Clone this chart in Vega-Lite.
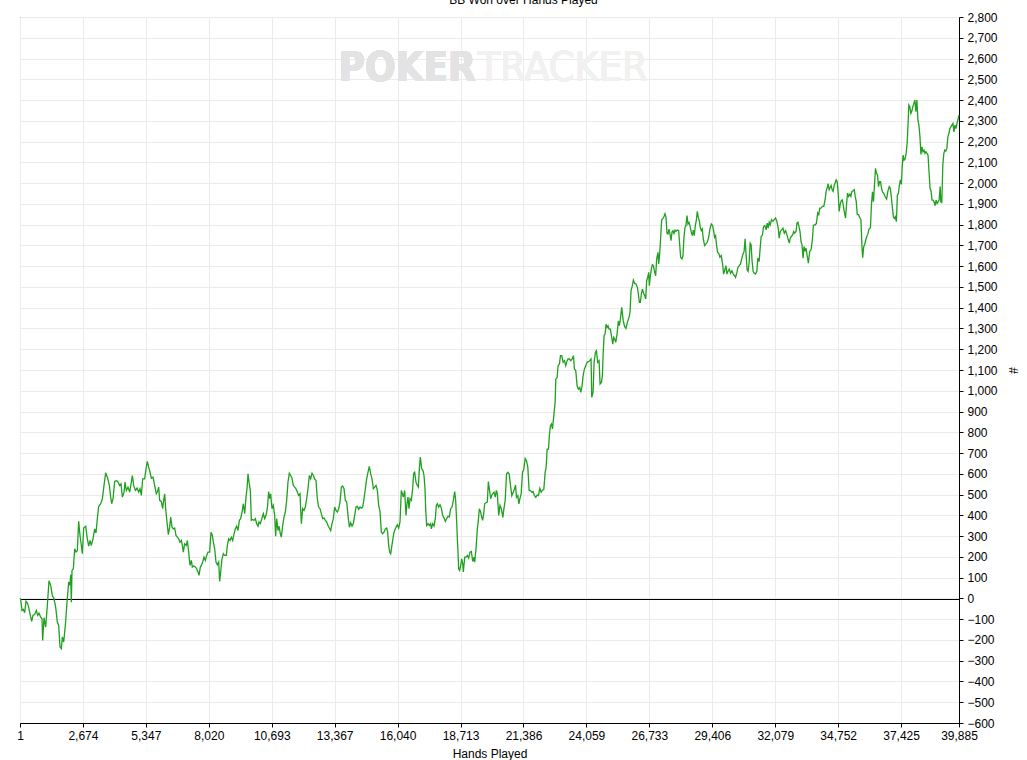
{
  "$schema": "https://vega.github.io/schema/vega-lite/v6.json",
  "autosize": {"type": "none"},
  "padding": {"left": 20, "top": 17, "right": 68, "bottom": 37},
  "width": 939,
  "height": 706,
  "background": "white",
  "title": {
    "text": "BB Won over Hands Played",
    "font": "Liberation Sans",
    "fontSize": 12,
    "fontWeight": "normal",
    "color": "black",
    "anchor": "middle",
    "frame": "group",
    "baseline": "alphabetic",
    "offset": -5,
    "dx": 34
  },
  "data": {
    "values": [
      {"hands":1,"bb":0},{"hands":29,"bb":-5},{"hands":86,"bb":-58},{"hands":143,"bb":-53},{"hands":199,"bb":-69},{"hands":256,"bb":-14},{"hands":313,"bb":-21},{"hands":369,"bb":-42},{"hands":426,"bb":-74},{"hands":497,"bb":-111},{"hands":553,"bb":-82},{"hands":624,"bb":-77},{"hands":695,"bb":-58},{"hands":751,"bb":-82},{"hands":808,"bb":-71},{"hands":879,"bb":-90},{"hands":936,"bb":-98},{"hands":964,"bb":-202},{"hands":1021,"bb":-93},{"hands":1091,"bb":-138},{"hands":1162,"bb":-34},{"hands":1233,"bb":85},{"hands":1304,"bb":63},{"hands":1375,"bb":14},{"hands":1445,"bb":-2},{"hands":1516,"bb":-42},{"hands":1587,"bb":-114},{"hands":1644,"bb":-130},{"hands":1700,"bb":-234},{"hands":1757,"bb":-242},{"hands":1799,"bb":-186},{"hands":1856,"bb":-210},{"hands":1927,"bb":-130},{"hands":1998,"bb":-18},{"hands":2068,"bb":79},{"hands":2125,"bb":63},{"hands":2153,"bb":114},{"hands":2182,"bb":-18},{"hands":2210,"bb":135},{"hands":2267,"bb":143},{"hands":2323,"bb":239},{"hands":2380,"bb":223},{"hands":2437,"bb":231},{"hands":2493,"bb":371},{"hands":2550,"bb":303},{"hands":2607,"bb":255},{"hands":2649,"bb":215},{"hands":2706,"bb":339},{"hands":2791,"bb":347},{"hands":2861,"bb":287},{"hands":2918,"bb":252},{"hands":2975,"bb":279},{"hands":3031,"bb":255},{"hands":3102,"bb":287},{"hands":3173,"bb":335},{"hands":3229,"bb":315},{"hands":3286,"bb":384},{"hands":3343,"bb":443},{"hands":3428,"bb":456},{"hands":3499,"bb":480},{"hands":3569,"bb":544},{"hands":3640,"bb":605},{"hands":3711,"bb":584},{"hands":3796,"bb":544},{"hands":3853,"bb":488},{"hands":3895,"bb":456},{"hands":3952,"bb":480},{"hands":4022,"bb":563},{"hands":4107,"bb":568},{"hands":4164,"bb":560},{"hands":4235,"bb":544},{"hands":4291,"bb":552},{"hands":4348,"bb":488},{"hands":4419,"bb":509},{"hands":4461,"bb":560},{"hands":4518,"bb":520},{"hands":4589,"bb":536},{"hands":4660,"bb":512},{"hands":4730,"bb":560},{"hands":4773,"bb":592},{"hands":4830,"bb":544},{"hands":4900,"bb":520},{"hands":4971,"bb":531},{"hands":5042,"bb":512},{"hands":5099,"bb":528},{"hands":5155,"bb":496},{"hands":5212,"bb":576},
      {"hands":5296,"bb":576},{"hands":5353,"bb":624},{"hands":5409,"bb":660},{"hands":5466,"bb":632},{"hands":5523,"bb":608},{"hands":5579,"bb":579},{"hands":5650,"bb":584},{"hands":5693,"bb":560},{"hands":5749,"bb":528},{"hands":5792,"bb":504},{"hands":5834,"bb":512},{"hands":5891,"bb":536},{"hands":5933,"bb":472},{"hands":6004,"bb":467},{"hands":6061,"bb":432},{"hands":6103,"bb":472},{"hands":6146,"bb":504},{"hands":6188,"bb":432},{"hands":6245,"bb":368},{"hands":6302,"bb":307},{"hands":6358,"bb":343},{"hands":6401,"bb":392},{"hands":6457,"bb":343},{"hands":6514,"bb":335},{"hands":6571,"bb":339},{"hands":6627,"bb":303},{"hands":6684,"bb":295},{"hands":6740,"bb":287},{"hands":6797,"bb":271},{"hands":6854,"bb":279},{"hands":6896,"bb":255},{"hands":6939,"bb":223},{"hands":6995,"bb":263},{"hands":7066,"bb":255},{"hands":7109,"bb":279},{"hands":7165,"bb":223},{"hands":7222,"bb":159},{"hands":7279,"bb":183},{"hands":7321,"bb":151},{"hands":7378,"bb":156},{"hands":7449,"bb":151},{"hands":7505,"bb":143},{"hands":7562,"bb":127},{"hands":7604,"bb":111},{"hands":7661,"bb":151},{"hands":7703,"bb":159},{"hands":7760,"bb":175},{"hands":7817,"bb":199},{"hands":7873,"bb":183},{"hands":7930,"bb":207},{"hands":7987,"bb":223},{"hands":8057,"bb":223},{"hands":8114,"bb":319},{"hands":8171,"bb":303},{"hands":8213,"bb":271},{"hands":8270,"bb":239},{"hands":8326,"bb":175},{"hands":8383,"bb":162},{"hands":8440,"bb":175},{"hands":8482,"bb":82},{"hands":8525,"bb":127},{"hands":8581,"bb":191},{"hands":8638,"bb":215},{"hands":8695,"bb":207},{"hands":8765,"bb":207},{"hands":8808,"bb":255},{"hands":8865,"bb":287},{"hands":8921,"bb":279},{"hands":8978,"bb":295},{"hands":9035,"bb":279},{"hands":9091,"bb":311},{"hands":9148,"bb":335},{"hands":9204,"bb":348},{"hands":9261,"bb":327},{"hands":9318,"bb":376},{"hands":9374,"bb":384},{"hands":9431,"bb":416},{"hands":9488,"bb":456},{"hands":9544,"bb":408},{"hands":9601,"bb":488},{"hands":9643,"bb":528},{"hands":9686,"bb":600},{"hands":9728,"bb":560},{"hands":9785,"bb":520},{"hands":9827,"bb":376},{"hands":9884,"bb":380},{"hands":9941,"bb":376},{"hands":9997,"bb":384},{"hands":10054,"bb":360},{"hands":10111,"bb":348},{"hands":10153,"bb":368},{"hands":10210,"bb":360},
      {"hands":10280,"bb":387},{"hands":10337,"bb":408},{"hands":10393,"bb":384},{"hands":10450,"bb":400},{"hands":10506,"bb":432},{"hands":10563,"bb":515},{"hands":10606,"bb":480},{"hands":10648,"bb":504},{"hands":10705,"bb":432},{"hands":10761,"bb":448},{"hands":10818,"bb":400},{"hands":10860,"bb":300},{"hands":10903,"bb":384},{"hands":10960,"bb":327},{"hands":11002,"bb":348},{"hands":11059,"bb":311},{"hands":11101,"bb":295},{"hands":11158,"bb":351},{"hands":11214,"bb":392},{"hands":11271,"bb":416},{"hands":11328,"bb":472},{"hands":11384,"bb":560},{"hands":11441,"bb":603},{"hands":11498,"bb":592},{"hands":11554,"bb":579},{"hands":11611,"bb":544},{"hands":11668,"bb":536},{"hands":11724,"bb":528},{"hands":11781,"bb":512},{"hands":11838,"bb":496},{"hands":11894,"bb":504},{"hands":11951,"bb":360},{"hands":12007,"bb":432},{"hands":12064,"bb":424},{"hands":12121,"bb":440},{"hands":12177,"bb":480},{"hands":12234,"bb":528},{"hands":12291,"bb":592},{"hands":12347,"bb":576},{"hands":12404,"bb":603},{"hands":12461,"bb":592},{"hands":12517,"bb":576},{"hands":12574,"bb":568},{"hands":12630,"bb":480},{"hands":12687,"bb":440},{"hands":12744,"bb":432},{"hands":12800,"bb":408},{"hands":12857,"bb":384},{"hands":12914,"bb":387},{"hands":12970,"bb":376},{"hands":13027,"bb":368},{"hands":13084,"bb":351},{"hands":13140,"bb":339},{"hands":13197,"bb":327},{"hands":13254,"bb":360},{"hands":13310,"bb":384},{"hands":13367,"bb":440},{"hands":13423,"bb":424},{"hands":13480,"bb":416},{"hands":13537,"bb":432},{"hands":13593,"bb":464},{"hands":13650,"bb":536},{"hands":13707,"bb":541},{"hands":13763,"bb":528},{"hands":13820,"bb":472},{"hands":13877,"bb":464},{"hands":13933,"bb":400},{"hands":13990,"bb":343},{"hands":14046,"bb":364},{"hands":14103,"bb":348},{"hands":14160,"bb":360},{"hands":14216,"bb":400},{"hands":14273,"bb":440},{"hands":14330,"bb":443},{"hands":14386,"bb":429},{"hands":14443,"bb":440},{"hands":14500,"bb":435},{"hands":14556,"bb":440},{"hands":14613,"bb":480},{"hands":14670,"bb":528},{"hands":14726,"bb":576},{"hands":14783,"bb":608},{"hands":14839,"bb":636},{"hands":14896,"bb":600},{"hands":14953,"bb":576},{"hands":15009,"bb":528},{"hands":15066,"bb":536},{"hands":15123,"bb":544},{"hands":15179,"bb":520},{"hands":15236,"bb":448},{"hands":15292,"bb":419},
      {"hands":15349,"bb":319},{"hands":15405,"bb":311},{"hands":15462,"bb":319},{"hands":15519,"bb":335},{"hands":15575,"bb":339},{"hands":15618,"bb":319},{"hands":15660,"bb":255},{"hands":15703,"bb":223},{"hands":15745,"bb":215},{"hands":15788,"bb":247},{"hands":15830,"bb":279},{"hands":15873,"bb":311},{"hands":15915,"bb":327},{"hands":15972,"bb":343},{"hands":16028,"bb":355},{"hands":16085,"bb":339},{"hands":16142,"bb":368},{"hands":16198,"bb":520},{"hands":16241,"bb":504},{"hands":16283,"bb":488},{"hands":16340,"bb":520},{"hands":16396,"bb":400},{"hands":16439,"bb":456},{"hands":16481,"bb":488},{"hands":16524,"bb":432},{"hands":16566,"bb":480},{"hands":16623,"bb":472},{"hands":16680,"bb":528},{"hands":16722,"bb":603},{"hands":16765,"bb":608},{"hands":16821,"bb":560},{"hands":16878,"bb":544},{"hands":16920,"bb":536},{"hands":16963,"bb":624},{"hands":17005,"bb":681},{"hands":17062,"bb":624},{"hands":17119,"bb":616},{"hands":17161,"bb":592},{"hands":17204,"bb":528},{"hands":17232,"bb":432},{"hands":17274,"bb":351},{"hands":17331,"bb":360},{"hands":17388,"bb":351},{"hands":17444,"bb":360},{"hands":17473,"bb":335},{"hands":17529,"bb":360},{"hands":17586,"bb":348},{"hands":17643,"bb":384},{"hands":17685,"bb":448},{"hands":17727,"bb":456},{"hands":17784,"bb":440},{"hands":17841,"bb":451},{"hands":17897,"bb":435},{"hands":17954,"bb":400},{"hands":18011,"bb":387},{"hands":18067,"bb":371},{"hands":18124,"bb":384},{"hands":18181,"bb":396},{"hands":18237,"bb":392},{"hands":18294,"bb":432},{"hands":18351,"bb":440},{"hands":18407,"bb":472},{"hands":18464,"bb":515},{"hands":18506,"bb":472},{"hands":18549,"bb":368},{"hands":18577,"bb":287},{"hands":18605,"bb":223},{"hands":18634,"bb":143},{"hands":18676,"bb":135},{"hands":18719,"bb":159},{"hands":18761,"bb":191},{"hands":18804,"bb":167},{"hands":18832,"bb":127},{"hands":18889,"bb":199},{"hands":18945,"bb":199},{"hands":19002,"bb":207},{"hands":19059,"bb":194},{"hands":19115,"bb":223},{"hands":19172,"bb":226},{"hands":19229,"bb":178},{"hands":19285,"bb":199},{"hands":19314,"bb":175},{"hands":19370,"bb":239},{"hands":19427,"bb":335},{"hands":19469,"bb":376},{"hands":19512,"bb":432},{"hands":19568,"bb":416},{"hands":19611,"bb":392},{"hands":19653,"bb":376},{"hands":19696,"bb":408},{"hands":19738,"bb":456},{"hands":19795,"bb":461},{"hands":19851,"bb":464},{"hands":19894,"bb":563},{"hands":19936,"bb":528},{"hands":19993,"bb":480},{"hands":20035,"bb":496},{"hands":20078,"bb":504},{"hands":20135,"bb":512},{"hands":20191,"bb":488},{"hands":20234,"bb":520},{"hands":20276,"bb":504},{"hands":20333,"bb":400},{"hands":20389,"bb":448},{"hands":20446,"bb":432},
      {"hands":20510,"bb":390},{"hands":20553,"bb":430},{"hands":20609,"bb":471},{"hands":20666,"bb":599},{"hands":20722,"bb":607},{"hands":20779,"bb":599},{"hands":20836,"bb":543},{"hands":20892,"bb":495},{"hands":20949,"bb":511},{"hands":21005,"bb":527},{"hands":21048,"bb":546},{"hands":21090,"bb":487},{"hands":21147,"bb":495},{"hands":21189,"bb":455},{"hands":21232,"bb":479},{"hands":21288,"bb":503},{"hands":21345,"bb":607},{"hands":21401,"bb":623},{"hands":21458,"bb":674},{"hands":21514,"bb":663},{"hands":21571,"bb":631},{"hands":21627,"bb":519},{"hands":21684,"bb":519},{"hands":21741,"bb":511},{"hands":21797,"bb":514},{"hands":21854,"bb":495},{"hands":21910,"bb":487},{"hands":21967,"bb":498},{"hands":22023,"bb":495},{"hands":22080,"bb":530},{"hands":22137,"bb":511},{"hands":22193,"bb":522},{"hands":22250,"bb":524},{"hands":22306,"bb":607},{"hands":22349,"bb":631},{"hands":22391,"bb":719},{"hands":22448,"bb":719},{"hands":22490,"bb":792},{"hands":22532,"bb":832},{"hands":22575,"bb":840},{"hands":22617,"bb":816},{"hands":22674,"bb":880},{"hands":22730,"bb":944},{"hands":22759,"bb":1056},{"hands":22815,"bb":1064},{"hands":22858,"bb":1121},{"hands":22914,"bb":1129},{"hands":22957,"bb":1169},{"hands":23013,"bb":1169},{"hands":23070,"bb":1137},{"hands":23126,"bb":1145},{"hands":23183,"bb":1121},{"hands":23239,"bb":1145},{"hands":23282,"bb":1153},{"hands":23338,"bb":1153},{"hands":23395,"bb":1145},{"hands":23452,"bb":1153},{"hands":23508,"bb":1169},{"hands":23550,"bb":1105},{"hands":23607,"bb":1097},{"hands":23664,"bb":1024},{"hands":23720,"bb":1008},{"hands":23777,"bb":1016},{"hands":23819,"bb":992},{"hands":23876,"bb":1024},{"hands":23918,"bb":1072},{"hands":23975,"bb":1105},{"hands":24031,"bb":1121},{"hands":24088,"bb":1137},{"hands":24144,"bb":1140},{"hands":24201,"bb":1145},{"hands":24257,"bb":1153},{"hands":24286,"bb":968},{"hands":24342,"bb":992},{"hands":24385,"bb":1137},{"hands":24441,"bb":1185},{"hands":24484,"bb":1193},{"hands":24540,"bb":1137},{"hands":24597,"bb":1145},{"hands":24639,"bb":1032},{"hands":24696,"bb":1040},{"hands":24738,"bb":1072},{"hands":24767,"bb":1169},{"hands":24809,"bb":1265},{"hands":24851,"bb":1273},{"hands":24894,"bb":1321},{"hands":24936,"bb":1305},{"hands":24979,"bb":1313},{"hands":25021,"bb":1297},{"hands":25078,"bb":1297},{"hands":25134,"bb":1257},{"hands":25177,"bb":1225},{"hands":25219,"bb":1257},{"hands":25262,"bb":1249},{"hands":25304,"bb":1233},{"hands":25360,"bb":1273},{"hands":25417,"bb":1337},{"hands":25459,"bb":1313},{"hands":25502,"bb":1345},{"hands":25558,"bb":1402},
      {"hands":25620,"bb":1340},{"hands":25680,"bb":1310},{"hands":25740,"bb":1300},{"hands":25800,"bb":1330},{"hands":25860,"bb":1350},
      {"hands":25913,"bb":1378},{"hands":25955,"bb":1482},{"hands":26012,"bb":1506},{"hands":26054,"bb":1533},{"hands":26111,"bb":1517},{"hands":26167,"bb":1514},{"hands":26224,"bb":1498},{"hands":26266,"bb":1466},{"hands":26309,"bb":1426},{"hands":26351,"bb":1426},{"hands":26393,"bb":1466},{"hands":26436,"bb":1490},{"hands":26478,"bb":1474},{"hands":26535,"bb":1458},{"hands":26577,"bb":1442},{"hands":26620,"bb":1530},{"hands":26662,"bb":1546},{"hands":26704,"bb":1570},{"hands":26733,"bb":1506},{"hands":26775,"bb":1554},{"hands":26818,"bb":1586},{"hands":26860,"bb":1607},{"hands":26902,"bb":1603},{"hands":26945,"bb":1578},{"hands":27001,"bb":1554},{"hands":27044,"bb":1635},{"hands":27100,"bb":1667},{"hands":27129,"bb":1611},{"hands":27171,"bb":1659},{"hands":27213,"bb":1739},{"hands":27256,"bb":1823},{"hands":27298,"bb":1828},{"hands":27355,"bb":1839},{"hands":27397,"bb":1852},{"hands":27440,"bb":1836},{"hands":27482,"bb":1758},{"hands":27525,"bb":1755},{"hands":27567,"bb":1779},{"hands":27609,"bb":1755},{"hands":27652,"bb":1723},{"hands":27694,"bb":1763},{"hands":27737,"bb":1771},{"hands":27779,"bb":1758},{"hands":27822,"bb":1774},{"hands":27864,"bb":1768},{"hands":27920,"bb":1774},{"hands":27977,"bb":1771},{"hands":28019,"bb":1707},{"hands":28062,"bb":1643},{"hands":28118,"bb":1635},{"hands":28161,"bb":1651},{"hands":28203,"bb":1739},{"hands":28246,"bb":1787},{"hands":28288,"bb":1795},{"hands":28331,"bb":1844},{"hands":28373,"bb":1803},{"hands":28415,"bb":1811},{"hands":28458,"bb":1795},{"hands":28514,"bb":1763},{"hands":28557,"bb":1747},{"hands":28599,"bb":1774},{"hands":28642,"bb":1747},{"hands":28684,"bb":1795},{"hands":28726,"bb":1819},{"hands":28769,"bb":1864},{"hands":28811,"bb":1836},{"hands":28854,"bb":1819},{"hands":28896,"bb":1787},{"hands":28939,"bb":1771},{"hands":28981,"bb":1779},{"hands":29023,"bb":1731},{"hands":29080,"bb":1699},{"hands":29137,"bb":1707},{"hands":29193,"bb":1715},{"hands":29250,"bb":1739},{"hands":29306,"bb":1779},{"hands":29363,"bb":1803},{"hands":29419,"bb":1795},{"hands":29462,"bb":1771},{"hands":29504,"bb":1739},{"hands":29547,"bb":1747},{"hands":29589,"bb":1699},{"hands":29631,"bb":1667},{"hands":29688,"bb":1659},{"hands":29730,"bb":1643},{"hands":29787,"bb":1651},{"hands":29844,"bb":1611},{"hands":29886,"bb":1562},{"hands":29928,"bb":1578},{"hands":29985,"bb":1603},{"hands":30027,"bb":1562},{"hands":30084,"bb":1578},{"hands":30126,"bb":1586},{"hands":30183,"bb":1566},{"hands":30240,"bb":1578},{"hands":30296,"bb":1562},{"hands":30353,"bb":1554},{"hands":30395,"bb":1546},{"hands":30452,"bb":1570},{"hands":30494,"bb":1594},{"hands":30551,"bb":1603},{"hands":30608,"bb":1611},{"hands":30636,"bb":1627},
      {"hands":30700,"bb":1655},{"hands":30757,"bb":1671},{"hands":30800,"bb":1732},{"hands":30842,"bb":1655},{"hands":30885,"bb":1583},{"hands":30927,"bb":1575},{"hands":30970,"bb":1615},{"hands":31013,"bb":1711},{"hands":31055,"bb":1703},{"hands":31098,"bb":1623},{"hands":31141,"bb":1575},{"hands":31183,"bb":1567},{"hands":31240,"bb":1562},{"hands":31297,"bb":1575},{"hands":31340,"bb":1639},{"hands":31397,"bb":1623},{"hands":31439,"bb":1687},{"hands":31482,"bb":1743},{"hands":31539,"bb":1751},{"hands":31582,"bb":1791},{"hands":31638,"bb":1796},{"hands":31695,"bb":1775},{"hands":31738,"bb":1807},{"hands":31781,"bb":1783},{"hands":31823,"bb":1812},{"hands":31866,"bb":1799},{"hands":31923,"bb":1824},{"hands":31980,"bb":1816},{"hands":32037,"bb":1824},{"hands":32094,"bb":1832},{"hands":32150,"bb":1816},{"hands":32207,"bb":1783},{"hands":32250,"bb":1735},{"hands":32293,"bb":1767},{"hands":32349,"bb":1775},{"hands":32406,"bb":1783},{"hands":32463,"bb":1759},{"hands":32520,"bb":1771},{"hands":32577,"bb":1751},{"hands":32634,"bb":1727},{"hands":32677,"bb":1711},{"hands":32719,"bb":1735},{"hands":32762,"bb":1743},{"hands":32819,"bb":1751},{"hands":32861,"bb":1767},{"hands":32904,"bb":1759},{"hands":32961,"bb":1767},{"hands":33004,"bb":1808},{"hands":33046,"bb":1812},{"hands":33089,"bb":1791},{"hands":33132,"bb":1767},{"hands":33174,"bb":1719},{"hands":33217,"bb":1703},{"hands":33260,"bb":1639},{"hands":33302,"bb":1695},{"hands":33345,"bb":1671},{"hands":33388,"bb":1687},{"hands":33430,"bb":1655},{"hands":33487,"bb":1615},{"hands":33544,"bb":1671},{"hands":33601,"bb":1679},{"hands":33658,"bb":1727},{"hands":33700,"bb":1796},{"hands":33743,"bb":1799},{"hands":33786,"bb":1799},{"hands":33828,"bb":1807},{"hands":33885,"bb":1856},{"hands":33928,"bb":1848},{"hands":33971,"bb":1880},{"hands":34027,"bb":1880},{"hands":34084,"bb":1888},{"hands":34141,"bb":1888},{"hands":34198,"bb":1920},{"hands":34241,"bb":1960},{"hands":34283,"bb":1976},{"hands":34326,"bb":1997},{"hands":34369,"bb":1968},{"hands":34411,"bb":1979},{"hands":34454,"bb":1989},{"hands":34497,"bb":1968},{"hands":34539,"bb":1960},{"hands":34582,"bb":1989},{"hands":34625,"bb":2000},{"hands":34667,"bb":2016},{"hands":34710,"bb":2008},{"hands":34753,"bb":1952},{"hands":34795,"bb":1864},{"hands":34838,"bb":1896},{"hands":34881,"bb":1915},{"hands":34923,"bb":1920},{"hands":34966,"bb":1896},{"hands":35009,"bb":1864},{"hands":35066,"bb":1832},{"hands":35108,"bb":1896},{"hands":35151,"bb":1952},{"hands":35193,"bb":1936},{"hands":35250,"bb":1947},{"hands":35293,"bb":1936},{"hands":35336,"bb":1960},{"hands":35393,"bb":1963},{"hands":35435,"bb":1968},{"hands":35478,"bb":1936},{"hands":35520,"bb":1912},{"hands":35563,"bb":1848},{"hands":35620,"bb":1848},{"hands":35677,"bb":1832},{"hands":35719,"bb":1824},
      {"hands":35766,"bb":1686},{"hands":35795,"bb":1641},{"hands":35837,"bb":1694},{"hands":35880,"bb":1705},{"hands":35923,"bb":1726},{"hands":35966,"bb":1742},{"hands":36009,"bb":1753},{"hands":36066,"bb":1779},{"hands":36123,"bb":1785},{"hands":36166,"bb":1894},{"hands":36209,"bb":1958},{"hands":36252,"bb":1910},{"hands":36295,"bb":1991},{"hands":36338,"bb":2071},{"hands":36381,"bb":2047},{"hands":36424,"bb":2039},{"hands":36467,"bb":1983},{"hands":36510,"bb":2007},{"hands":36552,"bb":2007},{"hands":36595,"bb":1975},{"hands":36638,"bb":1958},{"hands":36695,"bb":1950},{"hands":36753,"bb":1934},{"hands":36810,"bb":1923},{"hands":36867,"bb":1962},{"hands":36924,"bb":1983},{"hands":36967,"bb":1975},{"hands":37010,"bb":1934},{"hands":37053,"bb":1886},{"hands":37096,"bb":1838},{"hands":37139,"bb":1830},{"hands":37182,"bb":1838},{"hands":37225,"bb":1814},{"hands":37267,"bb":1942},{"hands":37310,"bb":1950},{"hands":37353,"bb":1991},{"hands":37396,"bb":2015},{"hands":37439,"bb":1994},{"hands":37468,"bb":2071},{"hands":37511,"bb":2135},{"hands":37554,"bb":2111},{"hands":37596,"bb":2116},{"hands":37639,"bb":2143},{"hands":37682,"bb":2191},{"hands":37725,"bb":2295},{"hands":37754,"bb":2376},{"hands":37797,"bb":2368},{"hands":37839,"bb":2336},{"hands":37882,"bb":2347},{"hands":37925,"bb":2368},{"hands":37968,"bb":2384},{"hands":38011,"bb":2400},{"hands":38054,"bb":2344},{"hands":38097,"bb":2400},{"hands":38140,"bb":2303},{"hands":38183,"bb":2279},{"hands":38226,"bb":2223},{"hands":38268,"bb":2138},{"hands":38311,"bb":2175},{"hands":38354,"bb":2151},{"hands":38397,"bb":2159},{"hands":38440,"bb":2143},{"hands":38483,"bb":2151},{"hands":38526,"bb":2143},{"hands":38569,"bb":2135},{"hands":38612,"bb":2055},{"hands":38655,"bb":1975},{"hands":38697,"bb":1962},{"hands":38740,"bb":1918},{"hands":38783,"bb":1918},{"hands":38826,"bb":1910},{"hands":38869,"bb":1891},{"hands":38912,"bb":1918},{"hands":38955,"bb":1902},{"hands":38998,"bb":1910},{"hands":39041,"bb":1918},{"hands":39084,"bb":1983},{"hands":39112,"bb":1910},{"hands":39155,"bb":1907},{"hands":39198,"bb":2087},{"hands":39241,"bb":2143},{"hands":39284,"bb":2159},{"hands":39327,"bb":2154},{"hands":39370,"bb":2167},{"hands":39413,"bb":2223},{"hands":39456,"bb":2239},{"hands":39499,"bb":2263},{"hands":39541,"bb":2271},{"hands":39584,"bb":2279},{"hands":39627,"bb":2287},{"hands":39670,"bb":2247},{"hands":39713,"bb":2279},{"hands":39756,"bb":2263},{"hands":39799,"bb":2287},{"hands":39885,"bb":2328}
    ]
  },
  "layer": [
    {
      "mark": {"type": "text", "text": "POKER", "align": "right", "baseline": "alphabetic", "font": "DejaVu Sans Condensed, sans-serif", "fontSize": 40, "fontWeight": "bold", "color": "#e3e3e3"},
      "encoding": {
        "x": {"datum": 19357, "type": "quantitative", "title": "Hands Played", "scale": {"domain": [1, 39885], "nice": false, "zero": false}, "axis": {"values": [1, 2674, 5347, 8020, 10693, 13367, 16040, 18713, 21386, 24059, 26733, 29406, 32079, 34752, 37425, 39885], "format": ",d", "labelFlush": false, "labelOverlap": false, "labelBound": false, "labelPadding": 3, "titlePadding": 7}},
        "y": {"datum": 2492, "type": "quantitative", "title": "#", "scale": {"domain": [-600, 2800], "nice": false, "zero": false}, "axis": {"orient": "right", "values": [-600, -500, -400, -300, -200, -100, 0, 100, 200, 300, 400, 500, 600, 700, 800, 900, 1000, 1100, 1200, 1300, 1400, 1500, 1600, 1700, 1800, 1900, 2000, 2100, 2200, 2300, 2400, 2500, 2600, 2700, 2800], "format": ",d", "labelFlush": false, "labelOverlap": false, "labelPadding": 4, "titlePadding": 8}}
      }
    },
    {
      "mark": {"type": "text", "text": "TRACKER", "align": "left", "baseline": "alphabetic", "font": "DejaVu Sans Condensed, sans-serif", "fontSize": 41, "fontWeight": "normal", "color": "#f1f1f1"},
      "encoding": {
        "x": {"datum": 19442, "type": "quantitative", "title": "Hands Played", "scale": {"domain": [1, 39885], "nice": false, "zero": false}, "axis": {"values": [1, 2674, 5347, 8020, 10693, 13367, 16040, 18713, 21386, 24059, 26733, 29406, 32079, 34752, 37425, 39885], "format": ",d", "labelFlush": false, "labelOverlap": false, "labelBound": false, "labelPadding": 3, "titlePadding": 7}},
        "y": {"datum": 2492, "type": "quantitative", "title": "#", "scale": {"domain": [-600, 2800], "nice": false, "zero": false}, "axis": {"orient": "right", "values": [-600, -500, -400, -300, -200, -100, 0, 100, 200, 300, 400, 500, 600, 700, 800, 900, 1000, 1100, 1200, 1300, 1400, 1500, 1600, 1700, 1800, 1900, 2000, 2100, 2200, 2300, 2400, 2500, 2600, 2700, 2800], "format": ",d", "labelFlush": false, "labelOverlap": false, "labelPadding": 4, "titlePadding": 8}}
      }
    },
    {
      "mark": {"type": "rule", "color": "black", "strokeWidth": 1, "yOffset": 1.09},
      "encoding": {
        "y": {"datum": 0, "type": "quantitative", "title": "#", "scale": {"domain": [-600, 2800], "nice": false, "zero": false}, "axis": {"orient": "right", "values": [-600, -500, -400, -300, -200, -100, 0, 100, 200, 300, 400, 500, 600, 700, 800, 900, 1000, 1100, 1200, 1300, 1400, 1500, 1600, 1700, 1800, 1900, 2000, 2100, 2200, 2300, 2400, 2500, 2600, 2700, 2800], "format": ",d", "labelFlush": false, "labelOverlap": false, "labelPadding": 4, "titlePadding": 8}}
      }
    },
    {
      "mark": {"type": "line", "color": "#1fa01f", "strokeWidth": 1.3},
      "encoding": {
        "x": {"field": "hands", "type": "quantitative", "title": "Hands Played", "scale": {"domain": [1, 39885], "nice": false, "zero": false}, "axis": {"values": [1, 2674, 5347, 8020, 10693, 13367, 16040, 18713, 21386, 24059, 26733, 29406, 32079, 34752, 37425, 39885], "format": ",d", "labelFlush": false, "labelOverlap": false, "labelBound": false, "labelPadding": 3, "titlePadding": 7}},
        "y": {"field": "bb", "type": "quantitative", "title": "#", "scale": {"domain": [-600, 2800], "nice": false, "zero": false}, "axis": {"orient": "right", "values": [-600, -500, -400, -300, -200, -100, 0, 100, 200, 300, 400, 500, 600, 700, 800, 900, 1000, 1100, 1200, 1300, 1400, 1500, 1600, 1700, 1800, 1900, 2000, 2100, 2200, 2300, 2400, 2500, 2600, 2700, 2800], "format": ",d", "labelFlush": false, "labelOverlap": false, "labelPadding": 4, "titlePadding": 8}}
      }
    }
  ],
  "config": {
    "view": {"stroke": "black", "strokeWidth": 1},
    "axis": {
      "labelFont": "Liberation Sans",
      "labelFontSize": 12,
      "labelColor": "black",
      "titleFont": "Liberation Sans",
      "titleFontSize": 12,
      "titleFontWeight": "normal",
      "titleColor": "black",
      "domainColor": "black",
      "tickColor": "black",
      "tickSize": 4,
      "gridColor": "#ebebeb",
      "gridWidth": 1,
      "grid": true
    }
  }
}
